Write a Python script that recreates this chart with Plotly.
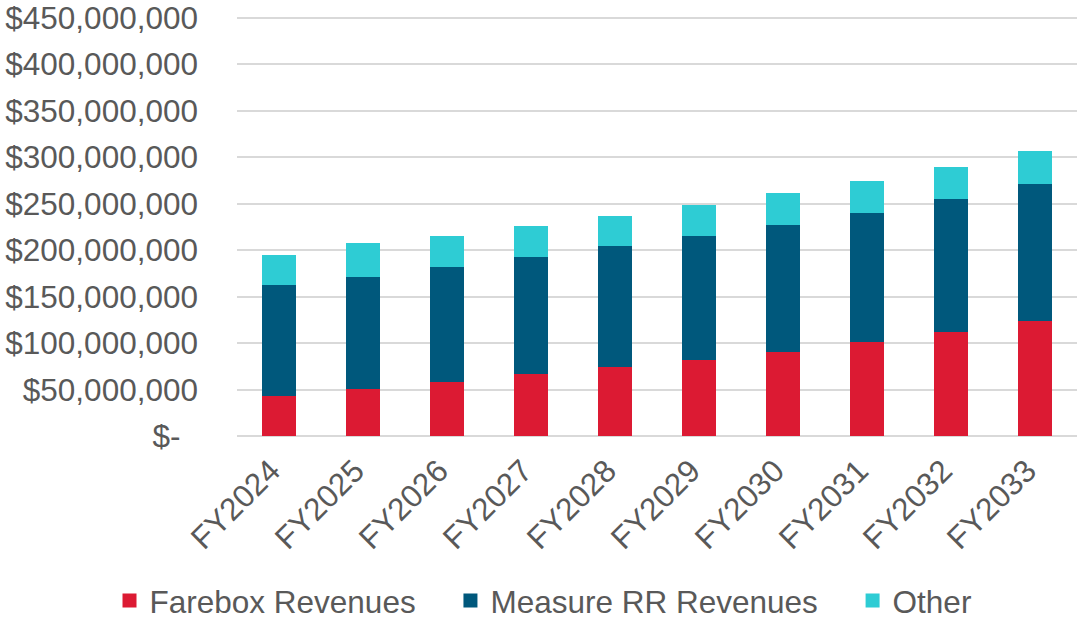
import plotly.graph_objects as go

categories = ["FY2024", "FY2025", "FY2026", "FY2027", "FY2028",
              "FY2029", "FY2030", "FY2031", "FY2032", "FY2033"]
farebox = [44.0, 51.5, 59.4, 67.6, 75.2, 82.7, 91.6, 102.0, 112.7, 124.9]
measure_rr = [119.6, 120.7, 123.8, 126.4, 129.9, 133.5, 136.7, 139.6, 143.6, 147.5]
other = [30.0, 34.3, 30.5, 30.8, 31.1, 31.1, 31.9, 31.8, 32.5, 32.9]
series_names = ["Farebox Revenues", "Measure RR Revenues", "Other"]
tick_values = [0, 50, 100, 150, 200, 250, 300, 350, 400, 450]
tick_labels = ["$-\u00a0\u00a0", "$50,000,000", "$100,000,000", "$150,000,000",
               "$200,000,000", "$250,000,000", "$300,000,000", "$350,000,000",
               "$400,000,000", "$450,000,000"]

M = 1_000_000
colors = ["#DC1A33", "#00587C", "#2ECCD4"]
legends = ["legend", "legend2", "legend3"]

fig = go.Figure()
for name, vals, col, lg in zip(series_names, [farebox, measure_rr, other], colors, legends):
    fig.add_trace(go.Bar(
        x=categories, y=[v * M for v in vals], name=name,
        marker=dict(color=col, line=dict(width=2, color=col)),
        legend=lg, showlegend=True,
    ))

font = dict(family="Liberation Sans, Arial, sans-serif", size=31.5, color="#595959")
leg_common = dict(orientation="h", yanchor="middle", y=0.030, yref="container",
                  xref="container", xanchor="left", visible=True,
                  font=font, bgcolor="rgba(0,0,0,0)")

fig.update_layout(
    barmode="stack",
    bargap=0.619,
    width=1081, height=619,
    showlegend=True,
    margin=dict(l=237, r=4, t=16, b=183, autoexpand=False),
    paper_bgcolor="white", plot_bgcolor="white",
    font=font,
    legend=dict(x=0.1013, **leg_common),
    legend2=dict(x=0.4167, **leg_common),
    legend3=dict(x=0.7887, **leg_common),
    xaxis=dict(tickangle=-45, showgrid=False, showline=False, ticks="",
               tickfont=font, automargin=False,
               ticklabelstandoff=9, ticklabelshift=-8),
    yaxis=dict(range=[0, 452 * M], tickvals=[v * M for v in tick_values],
               ticktext=tick_labels, showgrid=True, gridcolor="#D9D9D9",
               gridwidth=1.5, zeroline=True, zerolinecolor="#D9D9D9",
               zerolinewidth=1.5, showline=False, ticks="",
               ticklabelstandoff=38, tickfont=font, automargin=False,
               ticklabeloverflow="allow"),
)

fig.write_html("out.html", config={"displayModeBar": False},
               post_script="document.body.style.margin='0';document.body.style.overflow='hidden';")
